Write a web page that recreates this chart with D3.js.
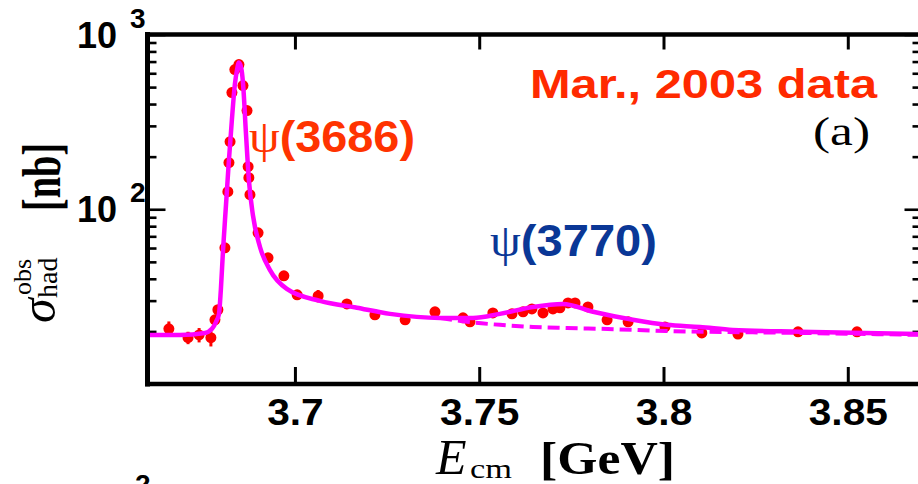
<!DOCTYPE html>
<html>
<head>
<meta charset="utf-8">
<script src="https://cdn.jsdelivr.net/npm/d3@7"></script>
<style>
  html, body { margin: 0; padding: 0; background: #fff; }
  svg { display: block; }
</style>
</head>
<body>
<svg id="chart" width="918" height="484"></svg>
<script>
// Observed hadronic cross section scan (E_cm in GeV, sigma in nb)
const energy = [3.6658, 3.6710, 3.6740, 3.6772, 3.6783, 3.6791, 3.6810, 3.6818, 3.6821, 3.6824,
                3.6829, 3.6837, 3.6848, 3.6859, 3.6870, 3.6873, 3.6875, 3.6878, 3.6900, 3.6927,
                3.6970, 3.7006, 3.7063, 3.7141, 3.7217, 3.7299, 3.7380, 3.7456, 3.7475, 3.7537,
                3.7589, 3.7619, 3.7643, 3.7673, 3.7700, 3.7719, 3.7741, 3.7760, 3.7795, 3.7847,
                3.7904, 3.8004, 3.8104, 3.8202, 3.8365, 3.8525];
const sigma = [20.7, 18.4, 19.1, 18.4, 23.3, 26.6, 60.2, 126.0, 184.7, 243.7,
               465, 630, 673, 510, 367, 175.2, 151.5, 121.1, 73.3, 52.7,
               41.6, 32.4, 31.9, 28.7, 24.9, 23.3, 25.9, 23.9, 22.7, 25.5,
               25.2, 25.9, 26.9, 25.5, 26.9, 27.3, 29.1, 29.1, 27.6, 23.3,
               22.7, 21.2, 19.6, 19.3, 19.9, 19.9];
const sigmaErr = [2.1, 1.5, 1.8, 2.0, 1.4, 1.5, 2.5, 4, 5, 6,
                  9, 11, 12, 10, 8, 5, 4.5, 4, 2.5, 2,
                  1.6, 1.4, 2.6, 1.3, 1.2, 1.2, 1.2, 1.1, 1.1, 1.1,
                  1.1, 1.1, 1.1, 1.1, 1.1, 1.1, 1.2, 1.2, 1.2, 1.1,
                  1.1, 1.0, 1.0, 1.0, 1.2, 1.2];

// Fitted total cross section
const fitE = [3.6600, 3.6688, 3.6756, 3.6775, 3.6786, 3.6794, 3.6799, 3.6805, 3.6813, 3.6821,
              3.6829, 3.6837, 3.6843, 3.6848, 3.6854, 3.6859, 3.6867, 3.6875, 3.6886, 3.6905,
              3.6932, 3.6978, 3.7068, 3.7168, 3.7258, 3.7394, 3.7483, 3.7556, 3.7646, 3.7727,
              3.7809, 3.7917, 3.8009, 3.8099, 3.8188, 3.8370, 3.8700];
const fitSigma = [19.1, 19.1, 19.6, 20.7, 22.7, 25.2, 34.6, 58.6, 106.1, 192.2,
                  325.8, 517, 630, 691, 647, 531, 274.4, 147.6, 92.5, 61.0,
                  45.0, 35.0, 29.9, 27.3, 25.2, 23.9, 23.9, 25.2, 27.6, 28.7,
                  25.9, 23.3, 21.8, 21.2, 20.4, 19.9, 19.3];

// Fit without the psi(3770) contribution
const contE = [3.7394, 3.7467, 3.7556, 3.7646, 3.7738, 3.7828, 3.8009, 3.8370, 3.8700];
const contSigma = [23.9, 22.7, 21.8, 21.2, 20.9, 20.7, 20.1, 19.6, 19.1];

const xTicks = [3.7, 3.75, 3.8, 3.85];
const yMajor = [100, 1000];
const yMinor = [20, 30, 40, 50, 60, 70, 80, 90, 200, 300, 400, 500, 600, 700, 800, 900];

const svg = d3.select("#chart");
const L = 147.5, R = 921.5, T = 34.5, B = 384;

const x = d3.scaleLinear().domain([3.66, 3.87]).range([L, R]);
const y = d3.scaleLog().domain([10, 1000]).range([B, T]);

const SANS = "'Liberation Sans', Arial, Helvetica, sans-serif";
const SERIF = "'Liberation Serif', 'Times New Roman', serif";

function stretch(sel, k) {
  sel.each(function () {
    const w = this.getComputedTextLength();
    d3.select(this).attr("textLength", w * k).attr("lengthAdjust", "spacingAndGlyphs");
  });
}

// ---- axes ----
const bottomAxis = d3.axisBottom(x).tickValues(xTicks).tickSizeInner(-17).tickSizeOuter(0)
  .tickPadding(15).tickFormat(d3.format(""));
const gb = svg.append("g").attr("transform", `translate(0,${B})`).call(bottomAxis);
gb.select(".domain").remove();
gb.selectAll(".tick line").attr("stroke", "#000").attr("stroke-width", 3);
gb.selectAll(".tick text").attr("font-family", SANS).attr("font-weight", "bold")
  .attr("font-size", 37).attr("fill", "#000").call(stretch, 1.1);

const topAxis = d3.axisTop(x).tickValues(xTicks).tickSizeInner(-15).tickSizeOuter(0).tickFormat("");
const gt = svg.append("g").attr("transform", `translate(0,${T})`).call(topAxis);
gt.select(".domain").remove();
gt.selectAll(".tick line").attr("stroke", "#000").attr("stroke-width", 3);

function yTicks(axisFn, pos, values, size) {
  const g = svg.append("g").attr("transform", `translate(${pos},0)`)
    .call(axisFn(y).tickValues(values).tickSizeInner(size).tickSizeOuter(0).tickFormat(""));
  g.select(".domain").remove();
  g.selectAll(".tick line").attr("stroke", "#000").attr("stroke-width", 2.6);
  return g;
}
yTicks(d3.axisLeft, L, yMinor, -9);
yTicks(d3.axisLeft, L, yMajor, -18);
yTicks(d3.axisRight, R, yMinor, -9);
yTicks(d3.axisRight, R, yMajor, -17);

// power-of-ten labels
const yLab = svg.append("g").selectAll("g").data(yMajor).join("g");
yLab.append("text")
  .attr("x", 117).attr("y", d => y(d) + 13)
  .attr("text-anchor", "end")
  .attr("font-family", SANS).attr("font-weight", "bold").attr("font-size", 36)
  .text("10");
yLab.append("text")
  .attr("x", 130).attr("y", d => y(d) - 7)
  .attr("font-family", SANS).attr("font-weight", "bold").attr("font-size", 28)
  .text(d => Math.round(Math.log10(d)));

// ---- curves and points ----
const line = d3.line().x(d => x(d[0])).y(d => y(d[1])).curve(d3.curveMonotoneX);

const pts = svg.append("g").selectAll("g").data(d3.zip(energy, sigma, sigmaErr)).join("g");
pts.append("line")
  .attr("x1", d => x(d[0])).attr("x2", d => x(d[0]))
  .attr("y1", d => y(d[1] - d[2])).attr("y2", d => y(d[1] + d[2]))
  .attr("stroke", "#ff0000").attr("stroke-width", 3);
pts.append("circle")
  .attr("cx", d => x(d[0])).attr("cy", d => y(d[1])).attr("r", 5.5)
  .attr("fill", "#ff0000");

svg.append("path").datum(d3.zip(contE, contSigma))
  .attr("d", line).attr("fill", "none")
  .attr("stroke", "#ff00ff").attr("stroke-width", 4).attr("stroke-dasharray", "12,6");

svg.append("path").datum(d3.zip(fitE, fitSigma))
  .attr("d", line).attr("fill", "none")
  .attr("stroke", "#ff00ff").attr("stroke-width", 4.5).attr("stroke-linejoin", "round");

// ---- frame ----
const frame = svg.append("g").attr("stroke", "#000").attr("stroke-linecap", "square");
frame.append("line").attr("x1", L).attr("x2", L).attr("y1", T).attr("y2", B).attr("stroke-width", 5);
frame.append("line").attr("x1", L).attr("x2", R).attr("y1", T).attr("y2", T).attr("stroke-width", 4.5);
frame.append("line").attr("x1", L).attr("x2", R).attr("y1", B).attr("y2", B).attr("stroke-width", 4.5);
frame.append("line").attr("x1", R).attr("x2", R).attr("y1", T).attr("y2", B).attr("stroke-width", 4.5);

// ---- annotations ----
svg.append("text").attr("x", 877).attr("y", 98).attr("text-anchor", "end")
  .attr("font-family", SANS).attr("font-weight", "bold").attr("font-size", 40)
  .attr("fill", "#ff2a00").attr("textLength", 347).attr("lengthAdjust", "spacingAndGlyphs")
  .text("Mar., 2003 data");

svg.append("text").attr("x", 813).attr("y", 145)
  .attr("font-family", SERIF).attr("font-size", 40).attr("fill", "#000")
  .attr("textLength", 57).attr("lengthAdjust", "spacingAndGlyphs")
  .text("(a)");

const psiLabel = (xp, yp, col, txt, w) => {
  const t = svg.append("text").attr("x", xp).attr("y", yp)
    .attr("font-family", SANS).attr("font-weight", "bold").attr("font-size", 44).attr("fill", col)
    .attr("textLength", w).attr("lengthAdjust", "spacingAndGlyphs");
  t.append("tspan").attr("font-family", SERIF).attr("font-weight", "normal").attr("font-size", 46).text("ψ");
  t.append("tspan").text(txt);
  return t;
};
psiLabel(249, 152, "#ff3300", "(3686)", 166);
psiLabel(490, 256, "#0a3796", "(3770)", 167);

// x title
const xt = svg.append("g");
xt.append("text").attr("x", 436).attr("y", 474)
  .attr("font-family", SERIF).attr("font-style", "italic").attr("font-size", 50)
  .text("E");
xt.append("text").attr("x", 470).attr("y", 478)
  .attr("font-family", SERIF).attr("font-size", 28)
  .attr("textLength", 42).attr("lengthAdjust", "spacingAndGlyphs")
  .text("cm");
xt.append("text").attr("x", 540).attr("y", 474)
  .attr("font-family", SERIF).attr("font-weight", "bold").attr("font-size", 46)
  .attr("textLength", 135).attr("lengthAdjust", "spacingAndGlyphs")
  .text("[GeV]");

// y title (rotated)
const yt = svg.append("g").attr("transform", "translate(55,323) rotate(-90)");
yt.append("text").attr("x", 0).attr("y", 0)
  .attr("font-family", SERIF).attr("font-style", "italic").attr("font-size", 50)
  .text("σ");
yt.append("text").attr("x", 25).attr("y", 2)
  .attr("font-family", SERIF).attr("font-size", 28)
  .text("had");
yt.append("text").attr("x", 28).attr("y", -24)
  .attr("font-family", SERIF).attr("font-size", 26)
  .text("obs");
yt.append("text").attr("x", 112).attr("y", 5)
  .attr("font-family", SERIF).attr("font-weight", "bold").attr("font-size", 54)
  .attr("textLength", 68).attr("lengthAdjust", "spacingAndGlyphs")
  .text("[nb]");

// top of the next panel's label
svg.append("text").attr("x", 135).attr("y", 494)
  .attr("font-family", SANS).attr("font-weight", "bold").attr("font-size", 28)
  .text("2");
</script>
</body>
</html>
